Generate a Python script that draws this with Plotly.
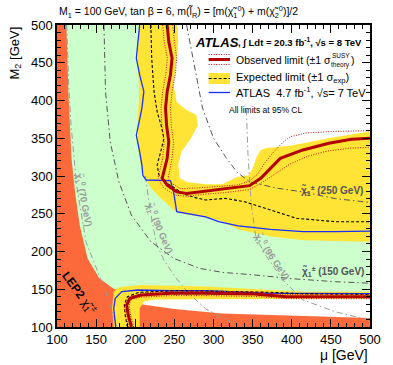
import plotly.graph_objects as go

# ---------------- data (mu [GeV], M2 [GeV]) ----------------
# LEP2 chargino excluded region
lep_mu = [100, 100, 112, 114.5, 118.6, 123, 129, 139, 154, 172, 185, 200, 207, 250, 311, 400, 500, 500]
lep_m2 = [100, 500, 500, 412, 323, 279, 235, 191, 164.5, 151, 145, 137, 130, 124, 118, 115, 112, 100]

# ATLAS 4.7 fb-1, 7 TeV limit (upper and lower branches)
blue_top_mu = [205.6, 203.5, 201.4, 205.6, 211, 208.5, 203.5, 201.4, 205.6, 208.5, 209.7, 213.9,
               245, 249, 253, 265.6, 290, 306.6, 331.5, 372.9, 414.3, 455.7, 500]
blue_top_m2 = [500, 478, 456, 434, 412, 390, 367.5, 354, 332, 314.6, 301, 294.7,
               293.8, 279, 252.7, 250.6, 246, 239.5, 233.8, 229.4, 226.3, 226.3, 227]
blue_bot_mu = [175, 174.5, 172.5, 174.5, 182.8, 203.5, 245, 290, 372.9, 414.3, 500]
blue_bot_m2 = [100, 107, 124.7, 138, 146.8, 149, 148, 148, 144.6, 144.6, 144.3]

# Expected limit +-1 sigma band (upper region and lower region)
band_top_mu = [205, 203, 205, 203, 204, 208, 211.8, 220, 232.5, 245, 251, 265.6, 290, 311, 331.5, 373, 414, 500,
               500, 476, 452, 398, 368, 360, 355, 350, 345, 331, 311, 290, 266, 257, 255, 259, 270, 280,
               278, 266, 253, 249, 253, 255, 254]
band_top_m2 = [500, 456, 412, 370, 335, 310, 299, 283.7, 270.4, 259.4, 252.7, 249, 245, 240, 229, 220, 215, 213,
               359, 355, 351, 340, 337, 334, 325, 310, 301, 299, 289, 289, 292, 297, 315, 332, 348, 367,
               381, 387, 398, 420, 456, 478, 500]
band_bot_mu = [172.5, 170.4, 172.5, 176.6, 182.8, 207.6, 245, 290, 331.5, 372.9, 414.3, 500,
               500, 414, 290, 265.6, 224, 211.8, 205.6, 205.6]
band_bot_m2 = [100, 124.7, 146.8, 151, 153.4, 155.6, 154.7, 153.5, 151.2, 149, 146.8, 146.8,
               137.5, 137.5, 137.5, 136.5, 136.5, 134, 124.7, 100]

# Expected limit (dashed)
exp_top_mu = [220, 221, 224, 228, 233, 236.6, 232.5, 228, 230, 238, 249, 262, 278, 290, 314.9, 339.7, 372.9, 406, 455.7, 500]
exp_top_m2 = [500, 456, 412, 385, 367.5, 350, 332, 314.6, 302, 292, 285, 276, 271, 268.2, 270.4, 266, 255, 244, 239.5, 239.5]
exp_bot_mu = [190, 187, 186, 190, 205, 250, 300, 372, 414, 500]
exp_bot_m2 = [100, 116, 130, 140, 146, 148, 147.5, 146, 144, 143]

# Observed limit
obs_top_mu = [240.8, 242.8, 247, 245, 240.8, 238.7, 240, 242.8, 240.8, 236.6, 234.5, 240.8, 253, 265.6, 290,
              314.9, 346, 360.4, 372.9, 385.3, 414.3, 447.4, 476.4, 500]
obs_top_m2 = [500, 478, 456, 434, 412, 390, 367.5, 345.5, 323.4, 305.7, 297, 288, 279, 277, 280,
              282.8, 287.2, 297, 310.2, 323.4, 334.5, 343.3, 348.6, 350]
obs_bot_mu = [195.2, 191, 189, 193, 207.6, 245, 290, 352, 393.6, 455.7, 500]
obs_bot_m2 = [100, 116, 129, 138, 142.4, 144.6, 144.6, 143.7, 140.2, 140.2, 140.2]

# Observed +-1 sigma (theory)
obs_up_mu = [248, 250, 253, 251, 247, 245, 246, 249, 247, 243, 242, 247, 258, 290, 330, 346, 356, 366, 377, 389, 398, 418, 452, 500]
obs_up_m2 = [500, 478, 456, 434, 412, 390, 367, 345, 323, 305, 297, 290, 283, 285, 288, 293, 302, 318, 332, 345, 352, 357, 359, 360]
obs_dn_mu = [235, 237, 241, 239, 235, 233, 234, 237, 235, 231, 229, 236, 250, 265, 290, 315, 346, 360, 377, 398, 420, 445, 475, 500]
obs_dn_m2 = [500, 478, 456, 434, 412, 390, 367, 345, 323, 305, 297, 285, 275, 273, 276, 278, 282, 290, 302, 316, 326, 333, 337, 338]
obs_bup_mu = [192, 188, 186, 190, 206, 245, 290, 352, 394, 456, 500]
obs_bup_m2 = [100, 116, 129, 136, 139.5, 141.5, 141.5, 140.5, 137.5, 137.5, 137.5]
obs_bdn_mu = [198, 194, 192, 196, 209, 245, 290, 352, 394, 456, 500]
obs_bdn_m2 = [100, 116, 129, 140.5, 145, 147.5, 147.5, 146.5, 143, 143, 143]

# Mass contours
n70_mu = [112.5, 115, 118, 125, 137, 150, 162, 177]
n70_m2 = [500, 420, 367, 288, 213, 178, 147, 100]
n90_mu = [213, 219, 227, 237, 252, 268, 290, 319, 335]
n90_m2 = [300, 255, 210, 188, 165, 145, 124, 108, 100]
n96_mu = [342, 344, 348, 354, 365, 389, 414, 456, 500]
n96_m2 = [388, 330, 264, 220, 197.6, 162, 136, 120, 109]
c150_mu = [160, 162, 168, 179, 195, 220, 249, 282, 311, 352, 400, 456, 500]
c150_m2 = [500, 412, 345.5, 292.5, 248.3, 213, 191, 177.7, 172.4, 169, 164, 160, 158]
c250_mu = [265.6, 274, 286, 300, 315, 330, 346, 380, 414, 456, 500]
c250_m2 = [500, 456, 390, 350, 326, 305, 292.5, 284, 279, 270, 265]

x_ticks = [100, 150, 200, 250, 300, 350, 400, 450, 500]
y_ticks = [100, 150, 200, 250, 300, 350, 400, 450, 500]

# ---------------- colours ----------------
C_LEP = "#FC6A3B"
C_GREEN = "#CCFFCC"
C_YEL = "#FFE436"
C_RED = "#B00000"
C_DOT = "#D01010"
C_BLUE = "#1A2EFF"
C_NEU = "#9A9A9A"
C_CHA = "#555555"

fig = go.Figure()


def poly(x, y, color):
    fig.add_trace(go.Scatter(x=x, y=y, fill="toself", fillcolor=color, mode="lines",
                             line=dict(width=0, color=color), hoverinfo="skip"))


def line(x, y, color, width, dash="solid"):
    fig.add_trace(go.Scatter(x=x, y=y, mode="lines", line=dict(color=color, width=width, dash=dash),
                             hoverinfo="skip"))


# green: 7 TeV excluded area
poly(blue_top_mu + blue_bot_mu[::-1] + [100, 100], blue_top_m2 + blue_bot_m2[::-1] + [100, 500], C_GREEN)
poly(lep_mu, lep_m2, C_LEP)
poly(band_top_mu, band_top_m2, C_YEL)
poly(band_bot_mu, band_bot_m2, C_YEL)

DD = "6px,3px,1.5px,3px"
line(n70_mu, n70_m2, C_NEU, 1, DD)
line(n90_mu, n90_m2, C_NEU, 1, DD)
line(n96_mu, n96_m2, C_NEU, 1, DD)
line(c150_mu, c150_m2, C_CHA, 1, DD)
line(c250_mu, c250_m2, C_CHA, 1, DD)

DOT = "1px,1.5px"
line(blue_top_mu, blue_top_m2, C_BLUE, 1.3)
line(blue_bot_mu, blue_bot_m2, C_BLUE, 1.3)
line(exp_top_mu, exp_top_m2, "black", 1.1, "3px,2px")
line(exp_bot_mu, exp_bot_m2, "black", 1.1, "3px,2px")
for xs, ys in [(obs_up_mu, obs_up_m2), (obs_dn_mu, obs_dn_m2), (obs_bup_mu, obs_bup_m2), (obs_bdn_mu, obs_bdn_m2)]:
    line(xs, ys, C_DOT, 1, DOT)
line(obs_top_mu, obs_top_m2, C_RED, 3)
line(obs_bot_mu, obs_bot_m2, C_RED, 3)

FONT = "Liberation Sans, Arial, sans-serif"
ann = []


def label(x, y, text, size, color, angle=0, xref="x", yref="y", xanchor="center", yanchor="middle", **kw):
    ann.append(dict(x=x, y=y, xref=xref, yref=yref, text=text, showarrow=False, textangle=angle,
                    xanchor=xanchor, yanchor=yanchor, font=dict(family=FONT, size=size, color=color), **kw))


# contour labels
label(135, 268, "<b>χ̃<sub>1</sub><sup>0</sup> (70 GeV)</b>", 9.5, C_NEU, 79)
label(231.7, 231, "<b>χ̃<sub>1</sub><sup>0</sup> (90 GeV)</b>", 9.5, C_NEU, 67)
label(375, 193, "<b>χ̃<sub>1</sub><sup>0</sup> (96 GeV)</b>", 9.5, C_NEU, 56)
label(451.6, 281, "<b>χ̃<sub>1</sub><sup>±</sup> (250 GeV)</b>", 10, C_CHA)
label(452.8, 173, "<b>χ̃<sub>1</sub><sup>±</sup> (150 GeV)</b>", 10, C_CHA)
label(128, 144.4, "<b>LEP2</b> χ̃<sub>1</sub><sup>±</sup>", 12, "black", 54)

# title, axis titles
label(0, 1, "M<sub>1</sub> = 100 GeV, tan β = 6, m(l̃<sub>R</sub>) = [m(χ̃<sub>1</sub><sup>0</sup>) + m(χ̃<sub>2</sub><sup>0</sup>)]/2",
      10.5, "black", 0, "paper", "paper", "left", "middle", yshift=13)
label(1, 0, "μ [GeV]", 14, "black", 0, "paper", "paper", "right", "middle", yshift=-28)
label(0, 1, "M<sub>2</sub> [GeV]", 13, "black", -90, "paper", "paper", "center", "top", xshift=-42)


def px(p):
    return (p - 57) / 322.0


def py(p):
    return (327 - p) / 302.0


# legend
label(px(197), py(43), "<b><i>ATLAS</i></b>", 13, "black", 0, "paper", "paper", "left", "middle")
label(px(241), py(43), "<b>, ∫ Ldt = 20.3 fb<sup>-1</sup>, √s = 8 TeV</b>", 9.5, "black", 0, "paper", "paper", "left", "middle")
label(px(239), py(60), "Observed limit (±1 σ", 10.5, "black", 0, "paper", "paper", "left", "middle")
label(px(338), py(55.5), "SUSY", 6.5, "black", 0, "paper", "paper", "left", "middle")
label(px(337), py(65), "theory", 6.5, "black", 0, "paper", "paper", "left", "middle")
label(px(357), py(60), ")", 10.5, "black", 0, "paper", "paper", "left", "middle")
label(px(239), py(78.5), "Expected limit (±1 σ<sub>exp</sub>)", 11, "black", 0, "paper", "paper", "left", "middle")
label(px(239), py(92.5), "ATLAS  4.7 fb<sup>-1</sup>, √s= 7 TeV", 11, "black", 0, "paper", "paper", "left", "middle")
label(px(232), py(110), "All limits at 95% CL", 8.5, "black", 0, "paper", "paper", "left", "middle")

shapes = [
    dict(type="rect", xref="paper", yref="paper", x0=px(213), x1=px(235), y0=py(84), y1=py(73),
         fillcolor=C_YEL, line=dict(width=0)),
    dict(type="line", xref="paper", yref="paper", x0=px(213), x1=px(235), y0=py(78.5), y1=py(78.5),
         line=dict(color="black", width=1.1, dash="3px,2px")),
    dict(type="line", xref="paper", yref="paper", x0=px(213), x1=px(235), y0=py(59.5), y1=py(59.5),
         line=dict(color=C_RED, width=3)),
    dict(type="line", xref="paper", yref="paper", x0=px(213), x1=px(235), y0=py(54.5), y1=py(54.5),
         line=dict(color=C_DOT, width=1, dash=DOT)),
    dict(type="line", xref="paper", yref="paper", x0=px(213), x1=px(235), y0=py(64.5), y1=py(64.5),
         line=dict(color=C_DOT, width=1, dash=DOT)),
    dict(type="line", xref="paper", yref="paper", x0=px(213), x1=px(235), y0=py(92.5), y1=py(92.5),
         line=dict(color=C_BLUE, width=1.3)),
]

axis_common = dict(showgrid=False, zeroline=False, showline=True, linecolor="black", linewidth=1.5,
                   mirror="allticks", ticks="inside", ticklen=8, tickwidth=1, tickcolor="black",
                   minor=dict(dtick=10, ticklen=4, ticks="inside", tickcolor="black", tickwidth=1),
                   tickfont=dict(family=FONT, size=13, color="black"))
fig.update_xaxes(range=[100, 500], tickvals=x_ticks, **axis_common)
fig.update_yaxes(range=[100, 500], tickvals=y_ticks, **axis_common)

fig.update_layout(width=393, height=365, margin=dict(l=57, r=14, t=25, b=38),
                  plot_bgcolor="white", paper_bgcolor="white", showlegend=False,
                  annotations=ann, shapes=shapes, font=dict(family=FONT))

fig.write_html("out.html")
